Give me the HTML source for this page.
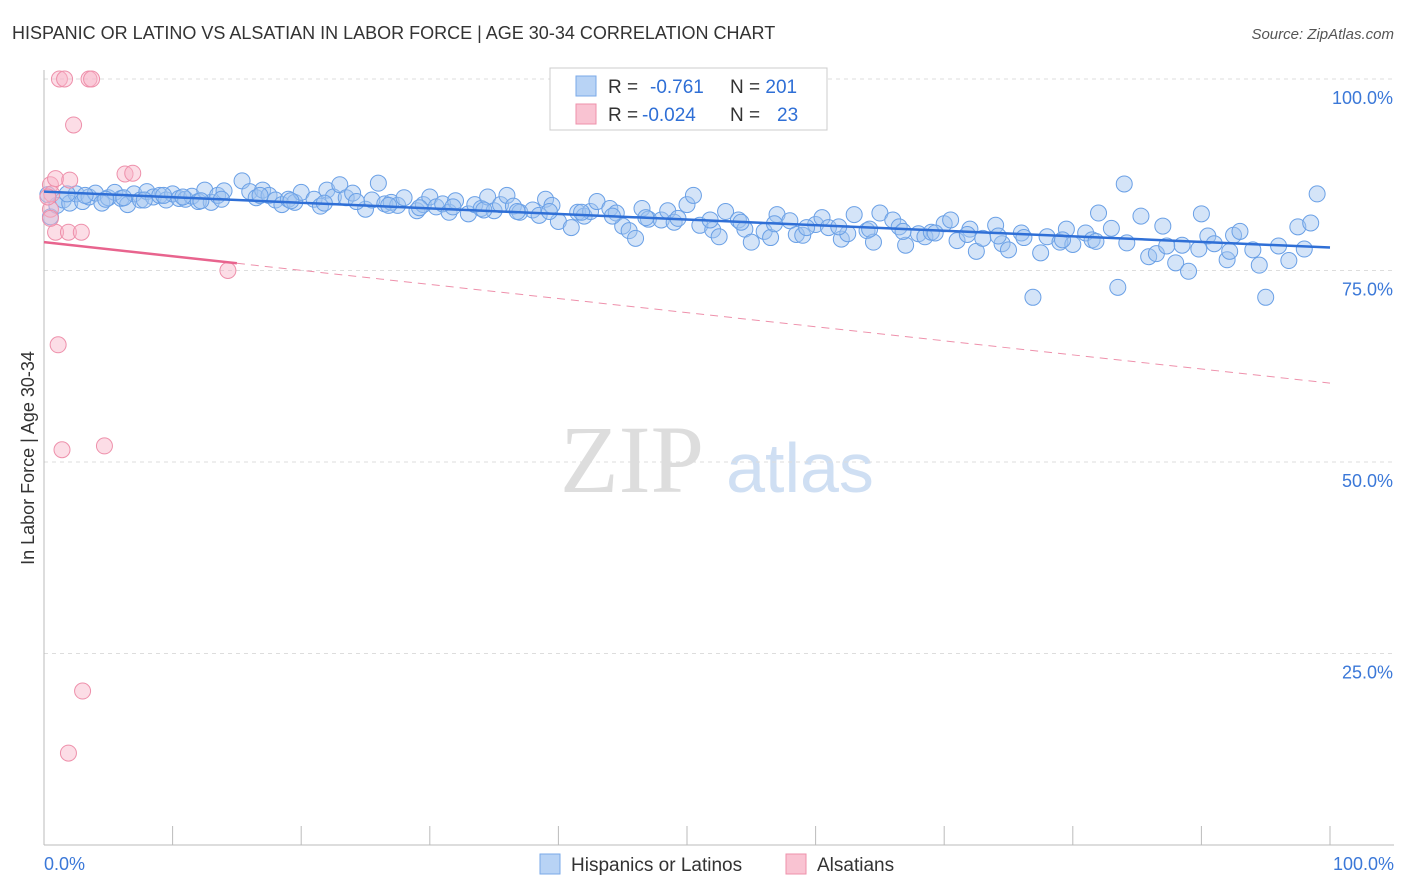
<!DOCTYPE html>
<html><head><meta charset="utf-8">
<style>
body{margin:0;background:#fff;font-family:"Liberation Sans",sans-serif;}
#wrap{position:relative;width:1406px;height:892px;overflow:hidden;}
</style></head>
<body><div id="wrap">
<svg id="svg" width="1406" height="892" xmlns="http://www.w3.org/2000/svg">
<text x="12" y="39" font-size="18" fill="#333">HISPANIC OR LATINO VS ALSATIAN IN LABOR FORCE | AGE 30-34 CORRELATION CHART</text>
<text x="1394" y="39" font-size="15" fill="#555" text-anchor="end" font-style="italic">Source: ZipAtlas.com</text>
<text x="34" y="458" font-size="18" fill="#333" text-anchor="middle" transform="rotate(-90 34 458)">In Labor Force | Age 30-34</text>
<text x="632" y="492" font-size="96" fill="#ddd" font-family="Liberation Serif,serif" text-anchor="middle">ZIP</text>
<text x="800" y="492" font-size="70" fill="#cfdff3" text-anchor="middle">atlas</text>
<g id="grid"></g><g id="axes"></g><g id="marks"></g>
<g>
<rect x="550" y="68" width="277" height="62" fill="#fff" stroke="#ccc"/>
<rect x="576" y="76" width="20" height="20" fill="#b8d3f5" stroke="#7aaae8"/>
<rect x="576" y="104" width="20" height="20" fill="#f9c3d2" stroke="#ee90ab"/>
<text x="608" y="93" font-size="19" fill="#333">R = <tspan fill="#2f6fd6" x="650">-0.761</tspan><tspan x="730" fill="#333">N = </tspan><tspan fill="#2f6fd6">201</tspan></text>
<text x="608" y="121" font-size="19" fill="#333">R = <tspan fill="#2f6fd6" x="642">-0.024</tspan><tspan x="730" fill="#333">N = </tspan><tspan fill="#2f6fd6" x="777">23</tspan></text>
</g>
<g>
<rect x="540" y="854" width="20" height="20" fill="#b8d3f5" stroke="#7aaae8"/>
<text x="571" y="871" font-size="19" fill="#333">Hispanics or Latinos</text>
<rect x="786" y="854" width="20" height="20" fill="#f9c3d2" stroke="#ee90ab"/>
<text x="817" y="871" font-size="19" fill="#333">Alsatians</text>
</g>
</svg></div>
<script>
const yTicks=[100,75,50,25];
const yTickLabels=["100.0%","75.0%","50.0%","25.0%"];
const xTickLabels=["0.0%","100.0%"];
const blueX=[0.5,1,1.5,2,2.5,3,3.5,4,4.5,5,5.5,6,6.5,7,7.5,8,8.5,9,9.5,10,10.5,11,11.5,12,12.5,13,13.5,14,15.4,16,16.5,17,17.5,18,18.5,19,19.5,20,21,21.5,22,22.5,23,23.5,24,25,25.5,26,26.5,27,27.5,28,29,29.5,30,30.5,31,31.5,32,33,33.5,34,34.5,35,35.5,36,36.5,37,38,38.5,39,39.5,40,41,41.5,42,42.5,43,44,44.5,45,45.5,46,46.5,47,48,48.5,49,50,50.5,51,52,52.5,53,54,54.5,55,56,56.5,57,58,58.5,59,60,60.5,61,62,62.5,63,64,64.5,65,66,66.5,67,68,68.5,69,70,70.5,71,72,72.5,73,74,74.5,75,76,76.9,77.5,78,79,79.5,80,81,81.5,82,83,83.5,84,85.3,85.9,86.5,87,88,88.5,89,90,90.5,91,92,92.5,93,94,94.5,95,96,96.8,97.5,98,98.5,99,0.3,1.8,3.2,4.8,6.2,7.8,9.3,10.8,12.2,13.8,16.8,19.2,21.8,24.3,26.8,29.2,31.8,34.2,36.8,39.3,41.8,44.2,46.8,49.3,51.8,54.2,56.8,59.3,61.8,64.2,66.8,69.3,71.8,74.2,76.2,79.2,81.8,84.2,87.3,89.8,92.2,94.8,97.2];
const blueY=[82,83.5,84.2,83.8,85,84,84.6,85.1,83.8,84.5,85.2,84.4,83.6,85,84.2,85.3,84.6,84.8,84.2,85,84.4,84.3,84.7,84,85.5,83.9,84.8,85.4,86.7,85.3,84.5,85.5,84.8,84.2,83.6,84.3,83.9,85.2,84.3,83.4,85.5,84.6,86.2,84.5,85.1,83,84.2,86.4,83.7,83.9,83.5,84.5,82.8,83.6,84.6,83.3,83.7,82.6,84.1,82.4,83.6,83.1,84.6,82.8,83.6,84.8,83.4,82.6,82.9,82.2,84.3,83.5,81.4,80.6,82.6,82.1,82.7,84,83.1,82.5,80.8,80.2,79.2,83.1,81.7,81.6,82.8,81.3,83.6,84.8,80.9,80.3,79.4,82.7,81.6,80.4,78.7,80.1,79.3,82.3,81.5,79.7,79.6,81,81.9,80.6,79.1,79.8,82.3,80.2,78.7,82.5,81.6,80.7,78.3,79.8,79.4,80,81.1,81.6,78.9,80.4,77.5,79.2,80.9,78.5,77.7,79.9,71.5,77.3,79.4,78.7,80.4,78.4,79.9,79,82.5,80.5,72.8,86.3,82.1,76.8,77.2,80.8,76,78.3,74.9,82.4,79.5,78.5,76.4,79.6,80.1,77.7,75.7,71.5,78.2,76.3,80.7,77.8,81.2,85,84.9,85,84.8,84.3,84.5,84.2,84.8,84.6,84.1,84.3,84.8,84.1,83.8,84,83.5,83.2,83.3,82.9,82.7,82.7,82.6,82.1,81.9,81.8,81.6,81.3,81.1,80.6,80.7,80.4,80.1,79.9,79.7,79.5,79.3,79,78.8,78.6,78.2,77.8,77.5];
const pinkX=[1.2,1.6,3.5,3.7,2.3,0.5,0.9,2,6.3,6.9,0.6,0.5,0.9,1.9,2.9,14.3,1.1,1.4,4.7,3,1.9,0.5,0.3];
const pinkY=[100,100,100,100,94,86.2,87,86.8,87.6,87.7,85,83,80,80,80,75,65.3,51.6,52.1,20.1,12,81.8,84.6];
const blueTrend=[85.3,78.0];
const pinkTrend=[78.7,60.3];
const pinkSolidEnd=15;
const X0=44,X1=1330,Y0=845,Y100=79;
const sx=v=>X0+(X1-X0)*v/100, sy=v=>Y0-(Y0-Y100)*v/100;
const NS="http://www.w3.org/2000/svg";
function mk(t,a,p){const e=document.createElementNS(NS,t);for(const k in a)e.setAttribute(k,a[k]);p.appendChild(e);return e;}
const grid=document.getElementById('grid'),axes=document.getElementById('axes'),marks=document.getElementById('marks');
yTicks.forEach((v,i)=>{
 const l=mk('line',{x1:X0,x2:1394,y1:sy(v),y2:sy(v),stroke:'#ddd','stroke-dasharray':'4 4'},grid);
 
 
 const t=mk('text',{x:1393,y:sy(v)+25,'font-size':18,fill:'#3b78d8','text-anchor':'end'},axes);
 t.textContent=yTickLabels[i];
 
 
});
const ax=mk('line',{x1:X0,x2:1394,y1:Y0,y2:Y0,stroke:'#bbb'},axes);


const ay=mk('line',{x1:X0,x2:X0,y1:70,y2:Y0,stroke:'#bbb'},axes);


for(let i=1;i<=10;i++){const t=mk('line',{x1:sx(i*10),x2:sx(i*10),y1:826,y2:Y0,stroke:'#bbb'},axes);
 
 }
[[0,'start',X0],[1,'end',1394]].forEach(([i,a,x])=>{const t=mk('text',{x:x,y:870,'font-size':18,fill:'#3b78d8','text-anchor':a},axes);t.textContent=xTickLabels[i];
 
 });
const nB=Math.min(blueX.length,blueY.length);
for(let i=0;i<nB;i++){const c=mk('circle',{cx:sx(blueX[i]),cy:sy(blueY[i]),r:8,fill:'rgba(160,195,240,0.45)',stroke:'#6aa0e6','stroke-width':1},marks);
 
 }
pinkX.forEach((x,i)=>{const c=mk('circle',{cx:sx(x),cy:sy(pinkY[i]),r:8,fill:'rgba(248,180,200,0.45)',stroke:'#ee90ab','stroke-width':1},marks);
 
 });
const bt=mk('line',{x1:sx(0),y1:sy(blueTrend[0]),x2:sx(100),y2:sy(blueTrend[1]),stroke:'#2f6fd6','stroke-width':2.5},marks);


const pAt=x=>pinkTrend[0]+(pinkTrend[1]-pinkTrend[0])*x/100;
const ps=mk('line',{x1:sx(0),y1:sy(pinkTrend[0]),x2:sx(pinkSolidEnd),y2:sy(pAt(pinkSolidEnd)),stroke:'#e8648e','stroke-width':2.5},marks);


const pd=mk('line',{x1:sx(pinkSolidEnd),y1:sy(pAt(pinkSolidEnd)),x2:sx(100),y2:sy(pinkTrend[1]),stroke:'#ee90ab','stroke-width':1,'stroke-dasharray':'8 6'},marks);


</script>
</body></html>
